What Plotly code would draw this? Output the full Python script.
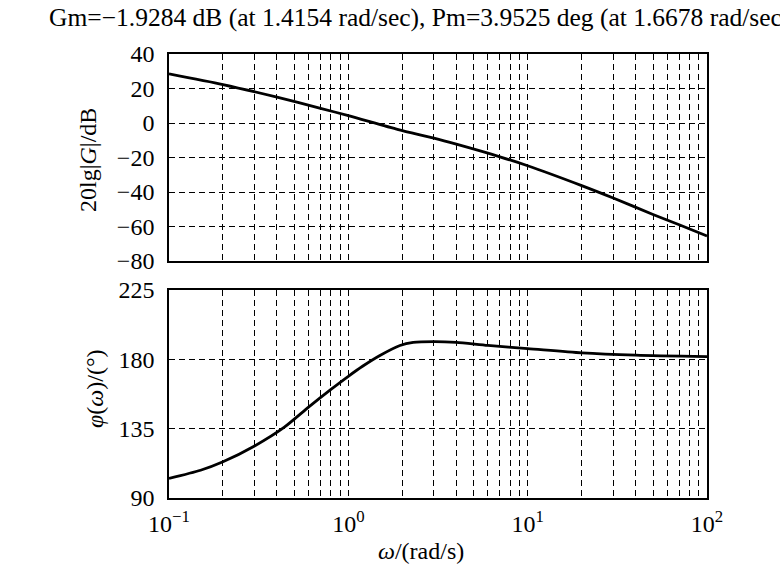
import plotly.graph_objects as go
from plotly.subplots import make_subplots

# ---- data ----
mag_w = [0.1, 0.2, 0.4, 0.7, 1.0, 1.9, 3.0, 4.0, 7.0, 10.0, 20.0, 30.0, 50.0, 70.0, 100.0]
mag_db = [28.5, 22.3, 15.0, 8.5, 4.3, -3.8, -8.8, -12.3, -19.6, -24.8, -36.3, -43.5, -53.0, -59.0, -65.5]

ph_w = [0.1, 0.15, 0.2, 0.3, 0.44, 0.6, 0.8, 1.0, 1.2, 1.5, 1.94, 2.3, 3.0, 4.0, 6.0, 10.0, 20.0, 40.0, 100.0]
ph_deg = [102.7, 108.0, 113.5, 123.8, 136.0, 149.0, 160.5, 169.0, 175.5, 182.5, 189.0, 191.0, 191.5, 191.0, 189.0, 187.0, 184.2, 182.7, 181.7]

x_tickvals = [0.1, 1, 10, 100]
x_ticktext = ["10<sup>\u22121</sup>", "10<sup>0</sup>", "10<sup>1</sup>", "10<sup>2</sup>"]
mag_ticks = [40, 20, 0, -20, -40, -60, -80]
mag_ticktext = ["40", "20", "0", "\u221220", "\u221240", "\u221260", "\u221280"]
ph_ticks = [90, 135, 180, 225]

title_text = "Gm=\u22121.9284 dB (at 1.4154 rad/sec), Pm=3.9525 deg (at 1.6678 rad/sec)"

FONT = "Liberation Serif, Times New Roman, serif"
FS = 24
L, R, T, B = 169, 73, 54, 82
W, H = 780, 580
ph = H - T - B

fig = make_subplots(rows=2, cols=1)
fig.add_trace(go.Scatter(x=mag_w, y=mag_db, mode="lines",
                         line=dict(color="black", width=2.8, shape="spline", smoothing=0.7),
                         showlegend=False), row=1, col=1)
fig.add_trace(go.Scatter(x=ph_w, y=ph_deg, mode="lines",
                         line=dict(color="black", width=2.8, shape="spline", smoothing=0.7),
                         showlegend=False), row=2, col=1)

grid = dict(showgrid=True, gridcolor="black", gridwidth=1.3, griddash="6px,4px")
common_x = dict(type="log", range=[-1, 2], showline=True, linecolor="black", linewidth=1.6, mirror=True,
                tickvals=x_tickvals, zeroline=False, ticks="",
                minor=dict(dtick="D1", showgrid=True, gridcolor="black", gridwidth=1.3,
                           griddash="6px,4px", ticks=""),
                **grid)
fig.update_xaxes(**common_x, showticklabels=False, row=1, col=1)
fig.update_xaxes(**common_x, ticktext=x_ticktext, showticklabels=True,
                 tickfont=dict(family=FONT, size=FS, color="black"), ticklabelstandoff=3, row=2, col=1)

common_y = dict(showline=True, linecolor="black", linewidth=1.6, mirror=True, zeroline=False, ticks="",
                tickfont=dict(family=FONT, size=FS, color="black"), ticklabelstandoff=8, **grid)
fig.update_yaxes(**common_y, range=[-80, 40], tickvals=mag_ticks, ticktext=mag_ticktext, row=1, col=1)
fig.update_yaxes(**common_y, range=[90, 225], tickvals=ph_ticks, row=2, col=1)

fig.update_layout(
    width=W, height=H, margin=dict(l=L, r=R, t=T, b=B),
    paper_bgcolor="white", plot_bgcolor="white",
    yaxis=dict(domain=[1 - 207 / ph, 1]),
    yaxis2=dict(domain=[0, 208 / ph]),
    font=dict(family=FONT, color="black", size=FS),
)


def px_x(p):
    return (p - L) / (W - L - R)


def px_y(p):
    return (H - B - p) / ph


fig.add_annotation(text=title_text, xref="paper", yref="paper", x=px_x(47), y=px_y(18),
                   xanchor="left", yanchor="middle", showarrow=False,
                   font=dict(family=FONT, size=25.5, color="black"))
fig.add_annotation(text="<i>\u03c9</i>/(rad/s)", xref="paper", yref="paper", x=px_x(421), y=px_y(551),
                   xanchor="center", yanchor="middle", showarrow=False,
                   font=dict(family=FONT, size=FS, color="black"))
fig.add_annotation(text="20lg|<i>G</i>|/dB", xref="paper", yref="paper", x=px_x(88), y=px_y(160),
                   xanchor="center", yanchor="middle", showarrow=False, textangle=-90,
                   font=dict(family=FONT, size=FS, color="black"))
fig.add_annotation(text="<i>\u03c6</i>(<i>\u03c9</i>)/(\u00b0)", xref="paper", yref="paper",
                   x=px_x(95), y=px_y(389),
                   xanchor="center", yanchor="middle", showarrow=False, textangle=-90,
                   font=dict(family=FONT, size=FS, color="black"))

fig.write_html("out.html")
